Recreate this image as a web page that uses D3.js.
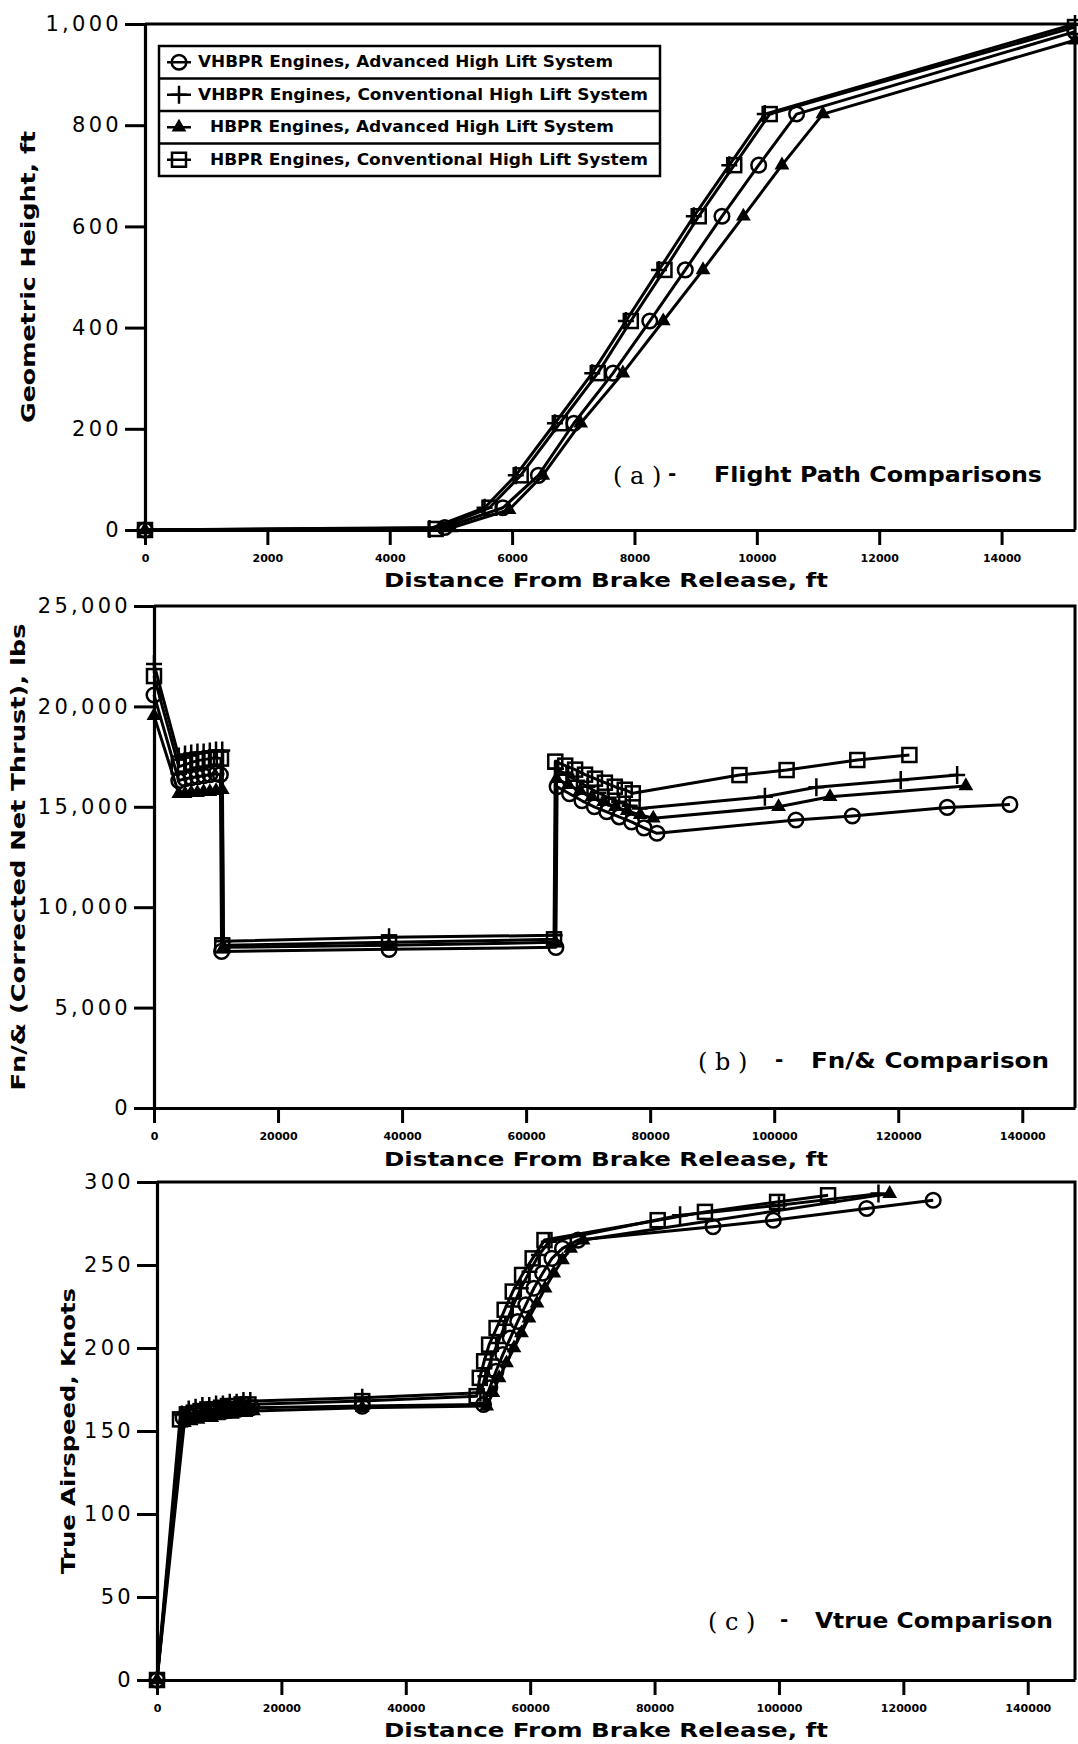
<!DOCTYPE html>
<html>
<head>
<meta charset="utf-8">
<script src="https://cdn.jsdelivr.net/npm/d3@7"></script>
<style>
  body { margin: 0; background: #fff; }
  svg { display: block; }
  text { font-family: "DejaVu Sans", sans-serif; fill: #000; }
</style>
</head>
<body>
<svg id="chart" width="1078" height="1744"></svg>
<script>
// legend labels, in the order of the markers below
const seriesNames = [
  "VHBPR Engines, Advanced High Lift System",
  "VHBPR Engines, Conventional High Lift System",
  "HBPR Engines, Advanced High Lift System",
  "HBPR Engines, Conventional High Lift System",
];
const seriesShapes = ["circle", "plus", "triangle", "square"];

// (a) geometric height, [distance ft, height ft]
const heightVhbprAdv = [[0,0],[4900,5],[5850,44],[6430,108],[7010,211],[7650,310],[8250,413],[8830,514],[9430,620],[10030,721],[10650,822],[15200,985]];
const heightVhbprConv = [[0,0],[4650,2],[5550,44],[6060,108],[6700,211],[7310,310],[7860,413],[8400,514],[8970,620],[9550,721],[10130,822],[15200,1000]];
const heightHbprAdv = [[0,0],[5000,4],[5950,40],[6500,108],[7120,211],[7810,310],[8470,413],[9120,514],[9780,620],[10410,721],[11080,822],[15200,968]];
const heightHbprConv = [[0,0],[4750,2],[5630,44],[6140,108],[6780,211],[7400,310],[7940,413],[8490,514],[9050,620],[9630,721],[10210,822],[15200,994]];

// (b) corrected net thrust, [distance ft, lbs]
const thrustVhbprAdv = [[0,20570],[4000,16300],[5000,16400],[6000,16450],[7000,16500],[8000,16550],[9000,16600],[10000,16650],[10700,16600],[10900,7800],[37900,7900],[64800,8000],[65000,16000],[67000,15650],[69000,15300],[71000,15000],[73000,14750],[75000,14500],[77000,14250],[79000,13950],[81100,13680],[103500,14340],[112600,14540],[127900,14970],[138000,15120]];
const thrustVhbprConv = [[0,22110],[4000,17500],[5000,17600],[6000,17650],[7000,17700],[8000,17700],[9000,17750],[10000,17800],[11000,17800],[11200,8300],[37900,8500],[64600,8600],[64800,16900],[66500,16600],[68200,16300],[69900,16000],[71600,15700],[73300,15450],[75000,15250],[76700,15050],[78300,14920],[98500,15500],[106800,15970],[120400,16330],[129500,16580]];
const thrustHbprAdv = [[0,19540],[4000,15650],[5000,15650],[6000,15700],[7000,15700],[8000,15750],[9000,15750],[10000,15800],[11000,15850],[11200,8000],[37900,8100],[64700,8250],[64900,16400],[66800,16100],[68700,15800],[70600,15500],[72500,15250],[74400,15000],[76300,14800],[78400,14600],[80500,14430],[100700,15000],[109000,15500],[130900,16040]];
const thrustHbprConv = [[0,21510],[4000,17000],[5000,17100],[6000,17200],[7000,17300],[8000,17350],[9000,17400],[10000,17450],[10800,17400],[11000,8100],[37900,8250],[64500,8400],[64700,17250],[66300,17050],[67900,16850],[69500,16600],[71100,16400],[72700,16200],[74300,16000],[75900,15850],[77200,15670],[94400,16580],[102000,16830],[113400,17330],[121800,17580]];

// (c) true airspeed, [distance ft, knots]
const speedVhbprAdv = [[0,0],[4200,158],[5300,159],[6400,160],[7500,161],[8600,161],[9700,162],[10800,162],[11900,163],[13000,163],[14100,164],[15200,164],[33000,165],[52500,166],[53500,176],[54500,186],[55600,196],[56800,206],[58000,216],[59300,226],[60600,236],[62000,245],[63500,254],[65200,260],[67700,265],[89400,273],[99100,277],[114100,284],[124800,289]];
const speedVhbprConv = [[0,0],[4000,160],[5100,163],[6200,164],[7300,165],[8400,165],[9500,166],[10600,166],[11700,167],[12800,167],[13900,168],[15000,168],[33000,170],[52000,173],[52800,183],[53700,193],[54800,203],[56000,214],[57200,225],[58500,236],[59900,246],[61400,256],[63000,264],[84100,280],[100000,286],[116000,293]];
const speedHbprAdv = [[0,0],[4400,155],[5500,156],[6600,157],[7700,158],[8800,158],[9900,159],[11000,160],[12100,160],[13200,161],[14300,161],[15500,162],[33000,164],[53000,165],[54000,173],[55000,182],[56200,191],[57400,200],[58600,209],[59800,218],[61100,227],[62400,236],[63800,245],[65200,253],[66500,260],[68500,265],[117800,293]];
const speedHbprConv = [[0,0],[3700,157],[4800,160],[5900,161],[7000,162],[8100,163],[9200,163],[10300,164],[11400,165],[12500,165],[13600,166],[14700,166],[33000,168],[51400,171],[51900,182],[52600,192],[53400,202],[54600,212],[55900,223],[57200,234],[58700,244],[60400,254],[62300,265],[80500,277],[88100,282],[99700,288],[107900,292]];

// tick values
const distTicksA = [0, 2000, 4000, 6000, 8000, 10000, 12000, 14000];
const distTicksBC = [0, 20000, 40000, 60000, 80000, 100000, 120000, 140000];
const heightTicks = [0, 200, 400, 600, 800, 1000];
const thrustTicks = [0, 5000, 10000, 15000, 20000, 25000];
const speedTicks = [0, 50, 100, 150, 200, 250, 300];

const svg = d3.select("#chart");

const panels = [
  {
    xDomain: [0, 15200], xRange: [145, 1075],
    yDomain: [0, 1000], yRange: [530, 24],
    xTicks: distTicksA, yTicks: heightTicks,
    series: [heightVhbprAdv, heightVhbprConv, heightHbprAdv, heightHbprConv],
    yTitle: "Geometric Height, ft", yTitleX: 28, yTitleLen: 292,
    xTitleY: 587,
    tag: "a", tagX: 613, dashX: 668, noteX: 714, noteY: 482,
    note: "Flight Path Comparisons", noteLen: 328,
  },
  {
    xDomain: [0, 148500], xRange: [154, 1075],
    yDomain: [0, 25000], yRange: [1108, 606],
    xTicks: distTicksBC, yTicks: thrustTicks,
    series: [thrustVhbprAdv, thrustVhbprConv, thrustHbprAdv, thrustHbprConv],
    yTitle: "Fn/& (Corrected Net Thrust), lbs", yTitleX: 18, yTitleLen: 467,
    xTitleY: 1166,
    tag: "b", tagX: 698, dashX: 775, noteX: 811, noteY: 1068,
    note: "Fn/& Comparison", noteLen: 238,
  },
  {
    xDomain: [0, 147600], xRange: [157, 1075],
    yDomain: [0, 300], yRange: [1680, 1182],
    xTicks: distTicksBC, yTicks: speedTicks,
    series: [speedVhbprAdv, speedVhbprConv, speedHbprAdv, speedHbprConv],
    yTitle: "True Airspeed, Knots", yTitleX: 68, yTitleLen: 286,
    xTitleY: 1737,
    tag: "c", tagX: 708, dashX: 780, noteX: 815, noteY: 1628,
    note: "Vtrue Comparison", noteLen: 238,
  },
];

function addMarkers(g, data, shape, x, y) {
  const m = g.append("g")
    .selectAll("g")
    .data(data)
    .join("g")
    .attr("transform", (d) => `translate(${x(d[0])},${y(d[1])})`);
  appendShape(m, shape);
}

function appendShape(sel, shape) {
  if (shape === "circle") {
    sel.append("circle").attr("r", 7.3)
      .attr("fill", "none").attr("stroke", "#000").attr("stroke-width", 2.5);
  } else if (shape === "square") {
    sel.append("rect").attr("x", -7).attr("y", -7)
      .attr("width", 14).attr("height", 14)
      .attr("fill", "none").attr("stroke", "#000").attr("stroke-width", 2.5);
  } else if (shape === "triangle") {
    sel.append("path").attr("d", d3.symbol(d3.symbolTriangle, 95))
      .attr("fill", "#000");
  } else {
    sel.append("path").attr("d", "M-8,0H8M0,-9V9")
      .attr("stroke", "#000").attr("stroke-width", 2.5);
  }
}

panels.forEach((p) => {
  const x = d3.scaleLinear().domain(p.xDomain).range(p.xRange);
  const y = d3.scaleLinear().domain(p.yDomain).range(p.yRange);
  const g = svg.append("g");

  // frame: top and right sides
  g.append("path")
    .attr("d", `M${p.xRange[0]},${p.yRange[1]}H${p.xRange[1]}V${p.yRange[0]}`)
    .attr("fill", "none").attr("stroke", "#000").attr("stroke-width", 3);

  const yAxis = g.append("g")
    .attr("transform", `translate(${p.xRange[0]},0)`)
    .call(d3.axisLeft(y).tickValues(p.yTicks).tickSize(20).tickSizeOuter(0)
      .tickPadding(3).tickFormat(d3.format(",")));
  yAxis.selectAll("text")
    .style("font-size", "21px").style("letter-spacing", "3.3px").attr("fill", "#000");

  const xAxis = g.append("g")
    .attr("transform", `translate(0,${p.yRange[0]})`)
    .call(d3.axisBottom(x).tickValues(p.xTicks).tickSize(15).tickSizeOuter(0)
      .tickPadding(9).tickFormat(d3.format("d")));
  xAxis.selectAll("text")
    .style("font-size", "11px").style("font-weight", "bold").attr("fill", "#000");

  [yAxis, xAxis].forEach((a) => {
    a.select(".domain").attr("stroke", "#000").attr("stroke-width", 3.2);
    a.selectAll(".tick line").attr("stroke", "#000").attr("stroke-width", 3);
  });

  const line = d3.line().x((d) => x(d[0])).y((d) => y(d[1]));
  p.series.forEach((s) => {
    g.append("path").datum(s).attr("d", line)
      .attr("fill", "none").attr("stroke", "#000")
      .attr("stroke-width", 3).attr("stroke-linejoin", "round");
  });
  p.series.forEach((s, i) => addMarkers(g, s, seriesShapes[i], x, y));

  // axis titles
  g.append("text")
    .attr("transform", `translate(${p.yTitleX},${(p.yRange[0] + p.yRange[1]) / 2}) rotate(-90)`)
    .attr("text-anchor", "middle").attr("dy", "0.35em")
    .attr("textLength", p.yTitleLen).attr("lengthAdjust", "spacingAndGlyphs")
    .style("font-size", "20px").style("font-weight", "bold")
    .text(p.yTitle);

  g.append("text")
    .attr("x", 606).attr("y", p.xTitleY)
    .attr("text-anchor", "middle")
    .attr("textLength", 444).attr("lengthAdjust", "spacingAndGlyphs")
    .style("font-size", "20px").style("font-weight", "bold")
    .text("Distance From Brake Release, ft");

  // panel caption
  g.append("text")
    .attr("x", p.tagX).attr("y", p.noteY + 2)
    .style("font-size", "24px").style("font-family", "'DejaVu Serif', serif")
    .text(`( ${p.tag} )`);
  g.append("text")
    .attr("x", p.dashX).attr("y", p.noteY - 2)
    .style("font-size", "20px").style("font-weight", "bold")
    .text("-");
  g.append("text")
    .attr("x", p.noteX).attr("y", p.noteY)
    .attr("textLength", p.noteLen).attr("lengthAdjust", "spacingAndGlyphs")
    .style("font-size", "21px").style("font-weight", "bold")
    .text(p.note);
});

// legend in panel (a)
const legend = svg.append("g").attr("transform", "translate(159,46)");
const rowH = 32.5;
const legendW = 501;
const textX = [39, 39, 51, 51];
const textLen = [415, 450, 404, 438];
legend.append("rect")
  .attr("width", legendW).attr("height", rowH * 4)
  .attr("fill", "#fff").attr("stroke", "#000").attr("stroke-width", 2.5);
seriesNames.forEach((name, i) => {
  const row = legend.append("g").attr("transform", `translate(0,${i * rowH})`);
  if (i > 0) {
    row.append("line").attr("x1", 0).attr("x2", legendW)
      .attr("stroke", "#000").attr("stroke-width", 2.5);
  }
  row.append("line")
    .attr("x1", 8).attr("x2", 32).attr("y1", rowH / 2).attr("y2", rowH / 2)
    .attr("stroke", "#000").attr("stroke-width", 2.5);
  const mk = row.append("g").attr("transform", `translate(20,${rowH / 2})`);
  appendShape(mk, seriesShapes[i]);
  row.append("text")
    .attr("x", textX[i]).attr("y", rowH / 2 + 5)
    .attr("textLength", textLen[i]).attr("lengthAdjust", "spacingAndGlyphs")
    .style("font-size", "15px").style("font-weight", "bold")
    .text(name);
});
</script>
</body>
</html>
